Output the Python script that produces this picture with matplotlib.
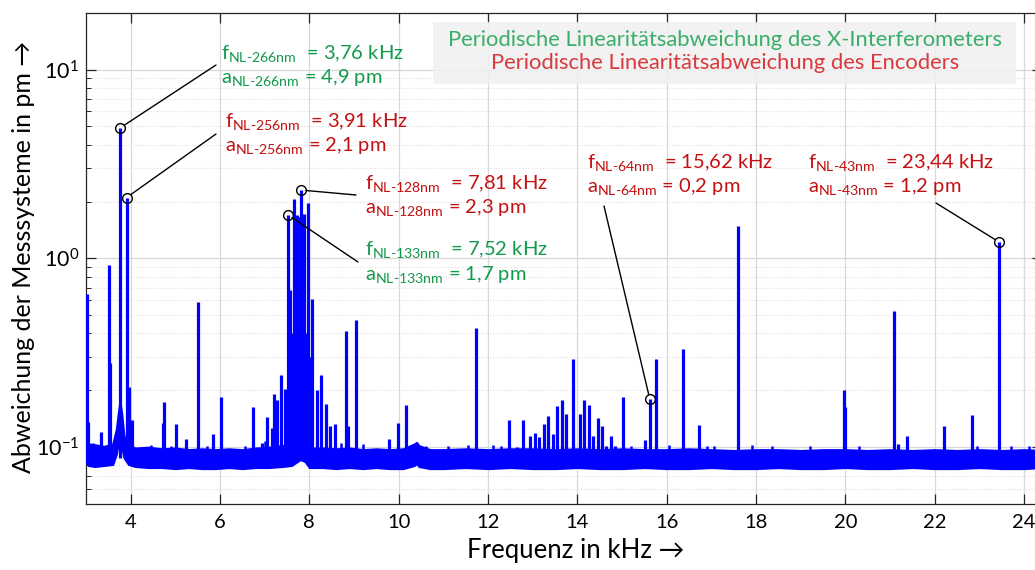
import matplotlib
matplotlib.use("Agg")
import matplotlib.pyplot as plt
from matplotlib.transforms import Affine2D
from matplotlib.patches import Rectangle
from matplotlib.ticker import NullLocator, NullFormatter, LogLocator

plt.rcParams['font.family'] = ['Lato', 'DejaVu Sans']
plt.rcParams['mathtext.fontset'] = 'custom'
plt.rcParams['mathtext.rm'] = 'Lato'
plt.rcParams['mathtext.it'] = 'Lato:italic'
plt.rcParams['mathtext.bf'] = 'Lato:bold'

# noise floor envelope (kHz, pm)
floor_f = [3.0, 3.05, 3.2, 3.4, 3.6, 3.68, 3.72, 3.76, 3.8, 3.85, 3.95, 4.1, 4.4, 4.7, 5.0,
           5.3, 5.6, 5.9, 6.2, 6.5, 6.8, 7.1, 7.4, 7.6, 7.8, 7.9, 8.0, 8.3, 8.6, 8.9,
           9.2, 9.5, 9.8, 10.1, 10.35, 10.4, 10.45, 10.7, 11.0, 11.5, 12.0, 12.5, 13.0, 13.5, 14.0,
           14.5, 15.0, 15.5, 16.0, 16.5, 17.0, 17.5, 18.0, 18.5, 19.0, 19.5, 20.0, 20.5, 21.0, 21.5,
           22.0, 22.5, 23.0, 23.5, 24.0, 24.4]
floor_hi = [0.112, 0.104, 0.103, 0.101, 0.104, 0.125, 0.15, 0.175, 0.15, 0.115, 0.103, 0.099, 0.100, 0.098, 0.099,
            0.097, 0.098, 0.097, 0.098, 0.097, 0.099, 0.100, 0.102, 0.104, 0.108, 0.106, 0.099, 0.099, 0.098, 0.099,
            0.097, 0.098, 0.097, 0.098, 0.104, 0.106, 0.102, 0.097, 0.097, 0.098, 0.097, 0.098, 0.098, 0.097, 0.098,
            0.097, 0.098, 0.097, 0.097, 0.098, 0.097, 0.096, 0.097, 0.097, 0.096, 0.097, 0.097, 0.096, 0.097, 0.096,
            0.097, 0.096, 0.097, 0.096, 0.097, 0.096]
floor_lo = [0.084, 0.080, 0.079, 0.080, 0.081, 0.092, 0.105, 0.115, 0.1, 0.088, 0.081, 0.079, 0.078, 0.078, 0.077,
            0.078, 0.077, 0.077, 0.078, 0.077, 0.078, 0.078, 0.079, 0.080, 0.086, 0.084, 0.078, 0.078, 0.077, 0.078,
            0.077, 0.078, 0.077, 0.077, 0.080, 0.082, 0.079, 0.077, 0.077, 0.078, 0.077, 0.078, 0.077, 0.077, 0.078,
            0.077, 0.077, 0.078, 0.077, 0.077, 0.078, 0.077, 0.077, 0.078, 0.077, 0.077, 0.078, 0.077, 0.077, 0.078,
            0.077, 0.077, 0.078, 0.077, 0.077, 0.078]

# small spurs just above the floor
spur_f = [3.15, 3.62, 4.45, 4.9, 5.7, 6.55, 7.0, 8.7, 9.2, 10.6, 11.1, 11.55, 12.1, 12.3, 15.2,
          16.05, 16.9, 17.05, 17.9, 18.35, 19.2, 20.3, 22.95, 23.7, 24.1]
spur_a = [0.105, 0.104, 0.103, 0.101, 0.102, 0.102, 0.108, 0.105, 0.104, 0.102, 0.101, 0.103, 0.103, 0.101, 0.101,
          0.103, 0.101, 0.101, 0.103, 0.101, 0.102, 0.101, 0.102, 0.101, 0.101]

# spectral lines (kHz, pm)
peak_f = [3.02, 3.04, 3.34, 3.52, 3.54, 3.76, 3.91, 3.97, 4.02, 4.73, 4.75, 5.02, 5.24, 5.51, 5.85,
          6.02, 6.73, 6.95, 7.06, 7.16, 7.20, 7.27, 7.37, 7.46, 7.52, 7.55, 7.57, 7.60, 7.63, 7.66,
          7.69, 7.72, 7.75, 7.78, 7.81, 7.84, 7.86, 7.89, 7.92, 7.95, 7.98, 8.02, 8.07, 8.17, 8.27,
          8.37, 8.47, 8.57, 8.83, 8.86, 9.04, 9.78, 9.99, 10.16, 11.73, 12.46, 12.64, 12.78, 12.95, 13.04,
          13.15, 13.25, 13.34, 13.45, 13.54, 13.65, 13.74, 13.90, 14.05, 14.15, 14.25, 14.35, 14.45, 14.55, 14.65,
          14.75, 14.84, 15.02, 15.52, 15.62, 15.75, 16.36, 16.72, 17.60, 19.96, 19.98, 21.08, 21.18, 21.37, 21.50,
          22.20, 22.72, 22.84, 23.44]
peak_a = [0.65, 0.136, 0.121, 0.92, 0.28, 4.9, 2.1, 0.208, 0.14, 0.134, 0.173, 0.132, 0.110, 0.586, 0.117,
          0.184, 0.163, 0.105, 0.144, 0.127, 0.192, 0.177, 0.242, 0.204, 1.7, 0.45, 0.676, 0.40, 0.35, 2.05,
          0.5, 1.69, 0.55, 1.65, 2.3, 0.45, 0.9, 1.72, 0.4, 0.35, 1.97, 0.3, 0.61, 0.20, 0.24,
          0.17, 0.129, 0.133, 0.41, 0.13, 0.47, 0.11, 0.134, 0.168, 0.427, 0.139, 0.10, 0.14, 0.115, 0.119,
          0.113, 0.132, 0.147, 0.118, 0.165, 0.177, 0.149, 0.293, 0.149, 0.178, 0.168, 0.115, 0.142, 0.129, 0.102,
          0.115, 0.102, 0.185, 0.109, 0.18, 0.293, 0.33, 0.131, 1.48, 0.20, 0.163, 0.526, 0.104, 0.115, 0.097,
          0.129, 0.095, 0.148, 1.22]

# marked peaks
ann_f = [3.76, 3.91, 7.81, 7.52, 15.62, 23.44]
ann_a = [4.9, 2.1, 2.3, 1.7, 0.18, 1.22]
ann_tag = ['266nm', '256nm', '128nm', '133nm', '64nm', '43nm']
ann_fval = ['3,76', '3,91', '7,81', '7,52', '15,62', '23,44']
ann_aval = ['4,9', '2,1', '2,3', '1,7', '0,2', '1,2']

green = '#129a4c'
red = '#c41010'
ann_col = [green, red, red, green, red, red]
# layout in image pixels: line end, text left, baselines of the two rows
ann_line = [(216, 65), (216, 134), (356, 195), (358, 262), (604, 206), (936, 203)]
ann_text = [(221, 59, 83), (225, 127, 151), (365, 189, 213), (365, 255, 280), (587, 168, 192), (808, 168, 192)]

fig = plt.figure(figsize=(10.35, 5.70), dpi=100)
ax = fig.add_axes([86 / 1035, 66 / 570, 956 / 1035, 491.3 / 570])
px = Affine2D().scale(1 / 1035, -1 / 570).translate(0, 1) + fig.transFigure

ax.fill_between(floor_f, floor_lo, floor_hi, color='#0000ff', lw=1.5, zorder=3)
ax.vlines(spur_f, 0.09, spur_a, color='#0000ff', lw=1.8, zorder=3)
ax.vlines(peak_f, 0.088, peak_a, color='#0000ff', lw=2.3, zorder=3)

ax.set_yscale('log')
ax.set_ylim(0.05, 20)
ax.set_xlim(3, 24.4)
ax.set_xticks(range(4, 25, 2))
ax.xaxis.set_minor_locator(NullLocator())
ax.yaxis.set_major_locator(LogLocator(base=10, numticks=10))
ax.yaxis.set_minor_locator(LogLocator(base=10, subs=range(2, 10), numticks=20))
ax.yaxis.set_minor_formatter(NullFormatter())

ax.grid(which='major', color='#d8d8d8', lw=0.9)
ax.grid(which='minor', axis='y', color='#dedede', ls=':', lw=0.8)
ax.set_axisbelow(True)
ax.tick_params(which='both', direction='in', top=True, right=True, color='#262626')
ax.tick_params(which='major', length=7, width=0.9)
ax.tick_params(which='minor', length=3.5, width=0.7)
ax.tick_params(axis='x', labelsize=14.5, pad=7)
ax.tick_params(axis='y', labelsize=15.5, pad=5)
for s in ax.spines.values():
    s.set_color('#262626')
    s.set_linewidth(0.9)

ax.set_xlabel('Frequenz in kHz →', fontsize=18.5)
ax.xaxis.set_label_coords(0.5126, -0.07)
fig.text(24, 257, 'Abweichung der Messsysteme in pm →', transform=px, fontsize=18,
         rotation=90, ha='center', va='center', rotation_mode='anchor')

# annotations
ax.plot(ann_f, ann_a, 'o', ms=7, mfc='none', mec='k', mew=1, zorder=6)
for i in range(len(ann_f)):
    ax.annotate('', xy=(ann_f[i], ann_a[i]), xytext=ann_line[i], textcoords=px,
                arrowprops=dict(arrowstyle='-', color='k', lw=1, shrinkA=0, shrinkB=3.6), zorder=6)
    x0, y1, y2 = ann_text[i]
    fig.text(x0, y1, 'f$_{\\text{NL-' + ann_tag[i] + '}}$  = ' + ann_fval[i] + ' kHz',
             transform=px, color=ann_col[i], fontsize=14.5, va='baseline', ha='left')
    fig.text(x0, y2, 'a$_{\\text{NL-' + ann_tag[i] + '}}$ = ' + ann_aval[i] + ' pm',
             transform=px, color=ann_col[i], fontsize=14.5, va='baseline', ha='left')

# legend box
ax.add_patch(Rectangle((433, 22), 583, 62, transform=px, facecolor='#f0f0f0', edgecolor='none',
                       alpha=0.85, zorder=4, clip_on=False))
fig.text(725, 40, 'Periodische Linearitätsabweichung des X-Interferometers', transform=px,
         color='#3aae6a', fontsize=15.8, ha='center', va='center', zorder=5)
fig.text(725, 63, 'Periodische Linearitätsabweichung des Encoders', transform=px,
         color='#d83a3e', fontsize=15.8, ha='center', va='center', zorder=5)

fig.savefig('out.png', dpi=100)
